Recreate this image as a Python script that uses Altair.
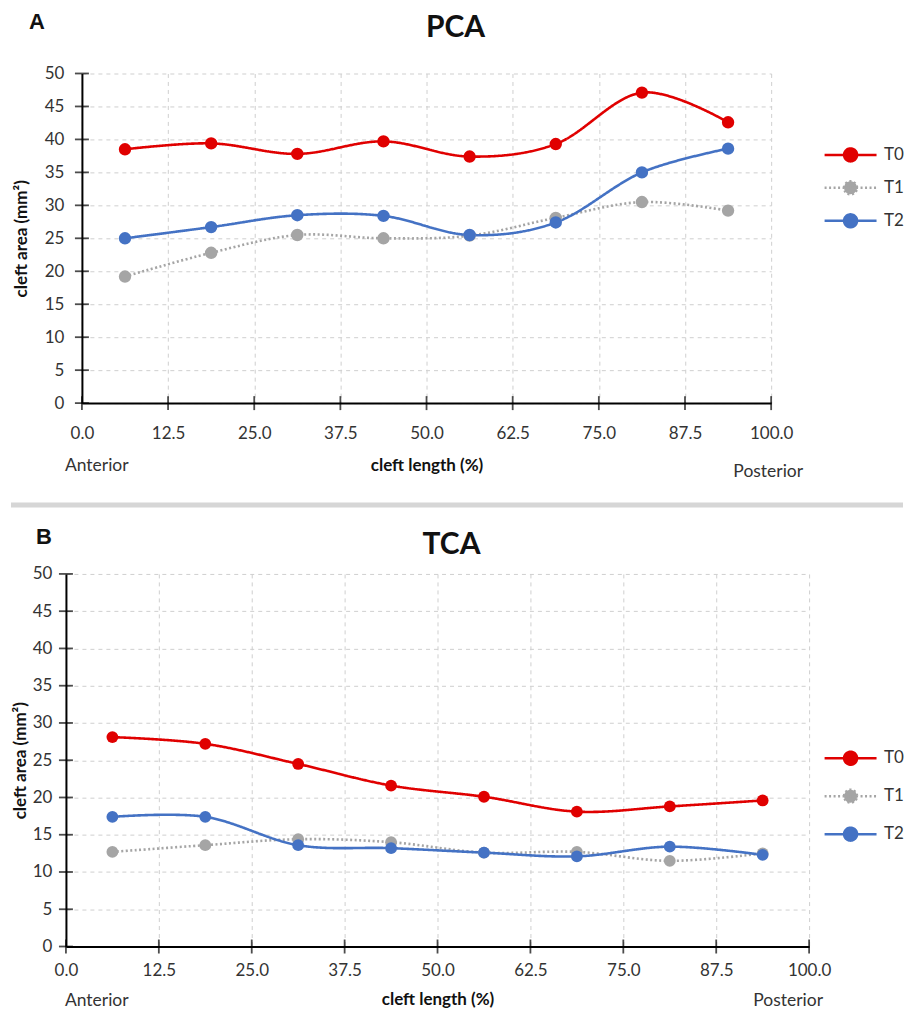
import altair as alt
import pandas as pd

# ---------------- data ----------------
x_pos = [6.25, 18.75, 31.25, 43.75, 56.25, 68.75, 81.25, 93.75]
series = ["T0", "T1", "T2"]
colors = ["#E00000", "#A5A5A5", "#4472C4"]

pca_t0 = [38.5, 39.4, 37.8, 39.7, 37.4, 39.3, 47.1, 42.6]
pca_t1 = [19.2, 22.8, 25.5, 25.0, 25.4, 28.1, 30.5, 29.2]
pca_t2 = [25.0, 26.7, 28.5, 28.4, 25.5, 27.4, 35.0, 38.6]

tca_t0 = [28.1, 27.2, 24.5, 21.6, 20.1, 18.1, 18.8, 19.6]
tca_t1 = [12.7, 13.6, 14.4, 14.0, 12.6, 12.7, 11.5, 12.5]
tca_t2 = [17.4, 17.4, 13.6, 13.2, 12.6, 12.1, 13.4, 12.3]

x_ticks = [0, 12.5, 25, 37.5, 50, 62.5, 75, 87.5, 100]
y_ticks = [0, 5, 10, 15, 20, 25, 30, 35, 40, 45, 50]

FONT = "Lato"
TXT = "#333333"
GRID = "#CFCFCF"
SEP = "#D6D6D6"

# legend symbol: short line with a filled dot in the middle
SYMBOL = ("M-2.6,0L2.6,0M-0.65,0A0.65,0.65,0,1,1,0.65,0"
          "A0.65,0.65,0,1,1,-0.65,0Z")


def panel(letter, name, t0, t1, t2, w, h, o):
    df = pd.DataFrame({
        "x": x_pos * 3,
        "y": t0 + t1 + t2,
        "series": [s for s in series for _ in x_pos],
    })
    x0 = o["x0"]  # left inset of the plotting range inside the view

    xdef = alt.X(
        "x:Q",
        scale=alt.Scale(domain=[0, 100], range=[x0, w], nice=False, zero=False),
        axis=alt.Axis(
            values=x_ticks, tickCount=30, format=".1f", title="cleft length (%)",
            grid=True, gridDash=[4, 4], gridColor=GRID, gridWidth=1,
            ticks=False, tickSize=0, labelPadding=o["xlabpad"],
            titlePadding=o["xtitlepad"], domainColor="black", domainWidth=2,
            labelOverlap=False, labelFlush=False,
            labelFont=FONT, labelFontSize=17, labelColor=TXT,
            titleFont=FONT, titleFontSize=17, titleFontWeight="bold",
            titleColor="#111111",
        ),
    )
    ydef = alt.Y(
        "y:Q",
        scale=alt.Scale(domain=[0, 50], nice=False),
        axis=alt.Axis(
            values=y_ticks, tickCount=30, format="d", title="cleft area (mm²)",
            offset=-x0,
            grid=True, gridDash=[4, 4], gridColor=GRID, gridWidth=1,
            ticks=False, tickSize=0, labelPadding=o["ylabpad"],
            titlePadding=o["ytitlepad"], domainColor="black", domainWidth=2,
            labelOverlap=False, labelFlush=False,
            labelFont=FONT, labelFontSize=17, labelColor=TXT,
            titleFont=FONT, titleFontSize=17, titleFontWeight="bold",
            titleColor="#111111",
        ),
    )
    leg = alt.Legend(
        title=None, orient="none", legendX=o["legx"], legendY=o["legy"],
        symbolType=SYMBOL, symbolSize=400, symbolStrokeWidth=2.5,
        labelFont=FONT, labelFontSize=17, labelColor=TXT,
        rowPadding=o["rowpad"], labelOffset=22, padding=0,
    )
    color = alt.Color("series:N", scale=alt.Scale(domain=series, range=colors),
                      legend=leg)
    dash = alt.StrokeDash(
        "series:N",
        scale=alt.Scale(domain=series, range=[[1, 0], [2, 2.5], [1, 0]]),
        legend=leg,
    )

    base = alt.Chart(df)
    lines = base.mark_line(interpolate="cardinal", strokeWidth=2.6).encode(
        x=xdef, y=ydef, color=color, strokeDash=dash,
        order=alt.Order("x:Q"), detail="series:N")
    dots = base.mark_circle(size=o["dot"], opacity=1).encode(
        x=xdef, y=ydef, color=color)

    # crossing tick marks on both axes
    xt = alt.Chart(pd.DataFrame({"x": x_ticks})).mark_tick(
        orient="vertical", size=14, thickness=1.8, color="black"
    ).encode(x=xdef, y=alt.value(h))
    yt = alt.Chart(pd.DataFrame({"y": y_ticks})).mark_tick(
        orient="horizontal", size=14, thickness=1.8, color="black"
    ).encode(y=ydef, x=alt.value(x0))

    one = pd.DataFrame({"k": [0]})
    layers = [lines, dots, xt, yt]
    layers.append(alt.Chart(one).mark_text(
        text=letter, font="Liberation Sans", fontSize=22, fontWeight="bold",
        color="#111111", align="center", baseline="middle"
    ).encode(x=alt.value(o["letx"]), y=alt.value(o["lety"])))
    layers.append(alt.Chart(one).mark_text(
        text=name, font=FONT, fontSize=30, fontWeight="bold",
        color="#111111", align="center", baseline="middle"
    ).encode(x=alt.value(o["ttlx"]), y=alt.value(o["ttly"])))
    layers.append(alt.Chart(one).mark_text(
        text="Anterior", font=FONT, fontSize=17.5, color=TXT,
        align="left", baseline="middle"
    ).encode(x=alt.value(o["antx"]), y=alt.value(o["anty"])))
    layers.append(alt.Chart(one).mark_text(
        text="Posterior", font=FONT, fontSize=17.5, color=TXT,
        align="right", baseline="middle"
    ).encode(x=alt.value(o["posx"]), y=alt.value(o["posy"])))
    if o.get("sep"):
        layers.append(alt.Chart(one).mark_rule(color=SEP, strokeWidth=5).encode(
            x=alt.value(-55), x2=alt.value(838), y=alt.value(o["sepy"])))

    return alt.layer(*layers).properties(width=w, height=h)


# both views share the same left origin (page x = 67)
optA = dict(x0=16, xlabpad=22, xtitlepad=16.5, ylabpad=18, ytitlepad=14,
            legx=774, legy=70, rowpad=10, dot=154,
            letx=-29, lety=-52, ttlx=390, ttly=-45.5,
            antx=-1, anty=393, posx=738, posy=399,
            sep=True, sepy=432)
optB = dict(x0=0, xlabpad=16.5, xtitlepad=13, ylabpad=14, ytitlepad=3,
            legx=774, legy=173, rowpad=15, dot=140,
            letx=-22, lety=-37, ttlx=386, ttly=-29,
            antx=-1, anty=428, posx=758, posy=428)

chartA = panel("A", "PCA", pca_t0, pca_t1, pca_t2, 706, 330, optA)
chartB = panel("B", "TCA", tca_t0, tca_t1, tca_t2, 744, 373, optB)

chart = alt.vconcat(chartA, chartB, spacing=171, bounds="flush").resolve_scale(
    x="independent", y="independent", color="independent",
    strokeDash="independent"
).configure_view(stroke=None).properties(
    padding={"left": 0, "top": 2, "right": 0, "bottom": 0}
)

chart.save("out.html", embed_options={"renderer": "svg", "actions": False})
